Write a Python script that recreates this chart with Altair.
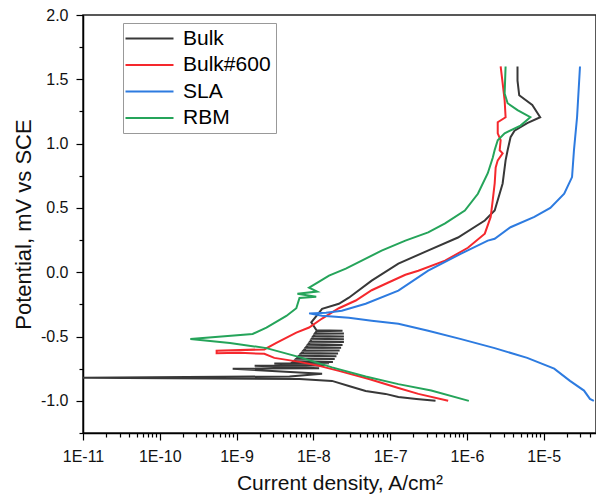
import altair as alt
import pandas as pd

series_names = ["Bulk", "Bulk#600", "SLA", "RBM"]
series_colors = ["#383838", "#f5282d", "#2d7be0", "#25a45a"]

bulk_i = [3.9e-7, 2.2e-7, 1.28e-7, 8.7e-8, 4.8e-8, 2.9e-8, 1.75e-8, 6.6e-9, 1.0e-11, 4.9e-9,
          1.3e-8, 8.9e-10, 1.19e-8, 1.72e-9, 1.4e-8, 3.1e-9, 1.6e-8,
          5.5e-9, 1.8e-8, 5.5e-9,
          6.0e-9, 1.9e-8, 6.0e-9,
          6.5e-9, 2.0e-8, 6.5e-9,
          7.0e-9, 2.1e-8, 7.0e-9,
          7.5e-9, 2.2e-8, 7.5e-9,
          8.0e-9, 2.3e-8, 8.0e-9,
          8.5e-9, 2.4e-8, 8.5e-9,
          9.0e-9, 2.5e-8, 9.0e-9,
          9.5e-9, 2.5e-8, 9.5e-9,
          1.0e-8, 2.5e-8, 1.0e-8,
          1.05e-8, 2.5e-8, 1.05e-8,
          1.1e-8, 2.4e-8, 1.1e-8,
          9.4e-9, 1.3e-8, 2.15e-8, 2.9e-8, 5.75e-8,
          1.28e-7, 3.1e-7, 7.65e-7, 1.71e-6, 2.3e-6, 2.92e-6, 3.19e-6, 3.39e-6, 3.7e-6, 4.17e-6,
          6.1e-6, 9.0e-6, 7.1e-6, 4.8e-6, 4.56e-6, 4.56e-6]
bulk_e = [-1.0, -0.985, -0.97, -0.946, -0.923, -0.884, -0.845, -0.83, -0.82, -0.81,
          -0.79, -0.75, -0.747, -0.728, -0.725, -0.71, -0.707,
          -0.700, -0.697, -0.694,
          -0.678, -0.675, -0.672,
          -0.656, -0.653, -0.650,
          -0.634, -0.631, -0.628,
          -0.612, -0.609, -0.606,
          -0.590, -0.587, -0.584,
          -0.568, -0.565, -0.562,
          -0.546, -0.543, -0.540,
          -0.524, -0.521, -0.518,
          -0.502, -0.499, -0.496,
          -0.480, -0.477, -0.474,
          -0.458, -0.455, -0.452,
          -0.39, -0.284, -0.245, -0.198, -0.065,
          0.067, 0.168, 0.27, 0.402, 0.48, 0.69, 0.87, 0.948, 1.05, 1.10,
          1.16, 1.205, 1.30, 1.376, 1.49, 1.6]

b600_i = [5.7e-7, 2.33e-7, 1.28e-7, 5.3e-8, 2.15e-8, 1.19e-8, 6.6e-9, 3.1e-9, 2.3e-9, 1.1e-9,
          5.5e-10, 5.5e-10, 2.3e-9, 3.3e-9, 6.0e-9, 8.8e-9, 1.3e-8, 2.15e-8, 3.57e-8, 5.75e-8,
          9.5e-8, 1.58e-7, 2.33e-7, 5.2e-7, 1.03e-6, 1.71e-6, 2.04e-6, 2.17e-6, 2.3e-6, 2.37e-6,
          2.52e-6, 2.92e-6, 2.67e-6, 2.75e-6, 2.52e-6, 2.52e-6, 3.19e-6, 3.1e-6, 2.92e-6, 2.75e-6]
b600_e = [-1.0, -0.946, -0.90, -0.83, -0.767, -0.728, -0.697, -0.666, -0.634, -0.627,
          -0.63, -0.61, -0.60, -0.55, -0.47, -0.43, -0.36, -0.28, -0.22, -0.14,
          -0.08, -0.02, 0.012, 0.09, 0.19, 0.30, 0.43, 0.56, 0.69, 0.815,
          0.87, 0.924, 0.948, 1.026, 1.08, 1.166, 1.205, 1.337, 1.47, 1.6]

sla_i = [4.5e-5, 4.0e-5, 3.35e-5, 2.2e-5, 1.37e-5, 6.1e-6, 2.3e-6, 8.4e-7, 3.13e-7, 1.28e-7,
         5.75e-8, 2.9e-8, 1.3e-8, 8.8e-9, 1.46e-8, 2.35e-8, 4.8e-8, 1.28e-7, 3.13e-7, 8.4e-7,
         1.87e-6, 2.3e-6, 3.7e-6, 7.56e-6, 1.22e-5, 1.85e-5, 2.34e-5, 2.48e-5, 2.72e-5, 2.97e-5]
sla_e = [-1.0, -0.985, -0.92, -0.845, -0.75, -0.666, -0.59, -0.52, -0.455, -0.40,
         -0.377, -0.354, -0.338, -0.32, -0.315, -0.30, -0.245, -0.143, 0.012, 0.145,
         0.246, 0.26, 0.35, 0.43, 0.50, 0.61, 0.74, 0.95, 1.205, 1.6]

rbm_i = [1.06e-6, 3.43e-7, 1.28e-7, 4.8e-8, 1.75e-8, 6.6e-9, 2.45e-9, 8.2e-10, 2.5e-10, 1.62e-9,
         2.45e-9, 4.45e-9, 6.0e-9, 6.6e-9, 1.09e-8, 6.2e-9, 1.12e-8, 8.8e-9, 1.19e-8, 1.6e-8,
         2.65e-8, 4.27e-8, 7.74e-8, 1.58e-7, 3.13e-7, 5.2e-7, 9.4e-7, 1.39e-6, 1.87e-6, 2.17e-6,
         2.3e-6, 2.52e-6, 3.1e-6, 4.99e-6, 6.7e-6, 4.56e-6, 3.39e-6, 3.1e-6, 3.19e-6]
rbm_e = [-1.0, -0.92, -0.87, -0.81, -0.74, -0.66, -0.59, -0.55, -0.52, -0.48,
         -0.43, -0.34, -0.28, -0.20, -0.19, -0.167, -0.15, -0.12, -0.073, -0.026,
         0.028, 0.09, 0.168, 0.246, 0.31, 0.38, 0.48, 0.61, 0.77, 0.89,
         0.95, 1.026, 1.08, 1.14, 1.205, 1.26, 1.314, 1.39, 1.6]

x_tick_values = [m * 10.0 ** d for d in range(-11, -4) for m in range(1, 10) if m * 10.0 ** d <= 4.8e-5]
y_tick_values = [-1.25, -1.0, -0.75, -0.5, -0.25, 0.0, 0.25, 0.5, 0.75, 1.0, 1.25, 1.5, 1.75, 2.0]

frames = []
for name, xs, ys in [("Bulk", bulk_i, bulk_e), ("Bulk#600", b600_i, b600_e),
                     ("SLA", sla_i, sla_e), ("RBM", rbm_i, rbm_e)]:
    frames.append(pd.DataFrame({"i": xs, "e": ys, "series": name, "seq": list(range(len(xs)))}))
df = pd.concat(frames, ignore_index=True)

FONT = "Liberation Sans"
major_x = "abs(log(datum.value)/LN10 - round(log(datum.value)/LN10)) < 0.001"
major_y = "abs(datum.value*2 - round(datum.value*2)) < 0.001"

chart = alt.Chart(df).mark_line(strokeWidth=2, clip=True).encode(
    x=alt.X("i:Q",
            scale=alt.Scale(type="log", domain=[1e-11, 4.8e-5], nice=False),
            axis=alt.Axis(values=x_tick_values,
                          labelExpr=f"({major_x}) ? '1E' + round(log(datum.value)/LN10) : ''",
                          tickSize={"condition": {"test": major_x, "value": 7}, "value": 4},
                          labelPadding=8, titlePadding=8, titleFontSize=21, labelFlush=False,
                          labelOverlap=False),
            title="Current density, A/cm²"),
    y=alt.Y("e:Q",
            scale=alt.Scale(domain=[-1.25, 2.0], nice=False, zero=False),
            axis=alt.Axis(values=y_tick_values,
                          labelExpr=f"({major_y}) ? (datum.value < 0 ? '-' + format(-datum.value, '.1f') : format(datum.value, '.1f')) : ''",
                          tickSize={"condition": {"test": major_y, "value": 7}, "value": 4},
                          labelPadding=8, titlePadding=5, labelFlush=False,
                          labelOverlap=False),
            title="Potential, mV vs SCE"),
    color=alt.Color("series:N",
                    scale=alt.Scale(domain=series_names, range=series_colors),
                    legend=alt.Legend(title=None, orient="none", legendX=40, legendY=8,
                                      symbolType="M-2.6,0H7.0", symbolSize=100, symbolStrokeWidth=2,
                                      labelFontSize=21, labelFont=FONT, labelColor="black",
                                      rowPadding=4.5, padding=5, labelOffset=34,
                                      strokeColor="#999999", fillColor="white")),
    order=alt.Order("seq:Q"),
).properties(
    width=513, height=418,
    autosize=alt.AutoSizeParams(type="none"),
    padding={"left": 75, "top": 7, "right": 0, "bottom": 61},
).configure_view(
    stroke="#222222", strokeWidth=1.5
).configure_axis(
    grid=False, domainColor="black", domainWidth=1.5, tickColor="black", tickWidth=1.2,
    labelFont=FONT, labelFontSize=16, labelColor="#111111",
    titleFont=FONT, titleFontSize=22, titleFontWeight="normal", titleColor="#111111",
)

chart.save("out.html", embed_options={"renderer": "svg", "actions": False})
